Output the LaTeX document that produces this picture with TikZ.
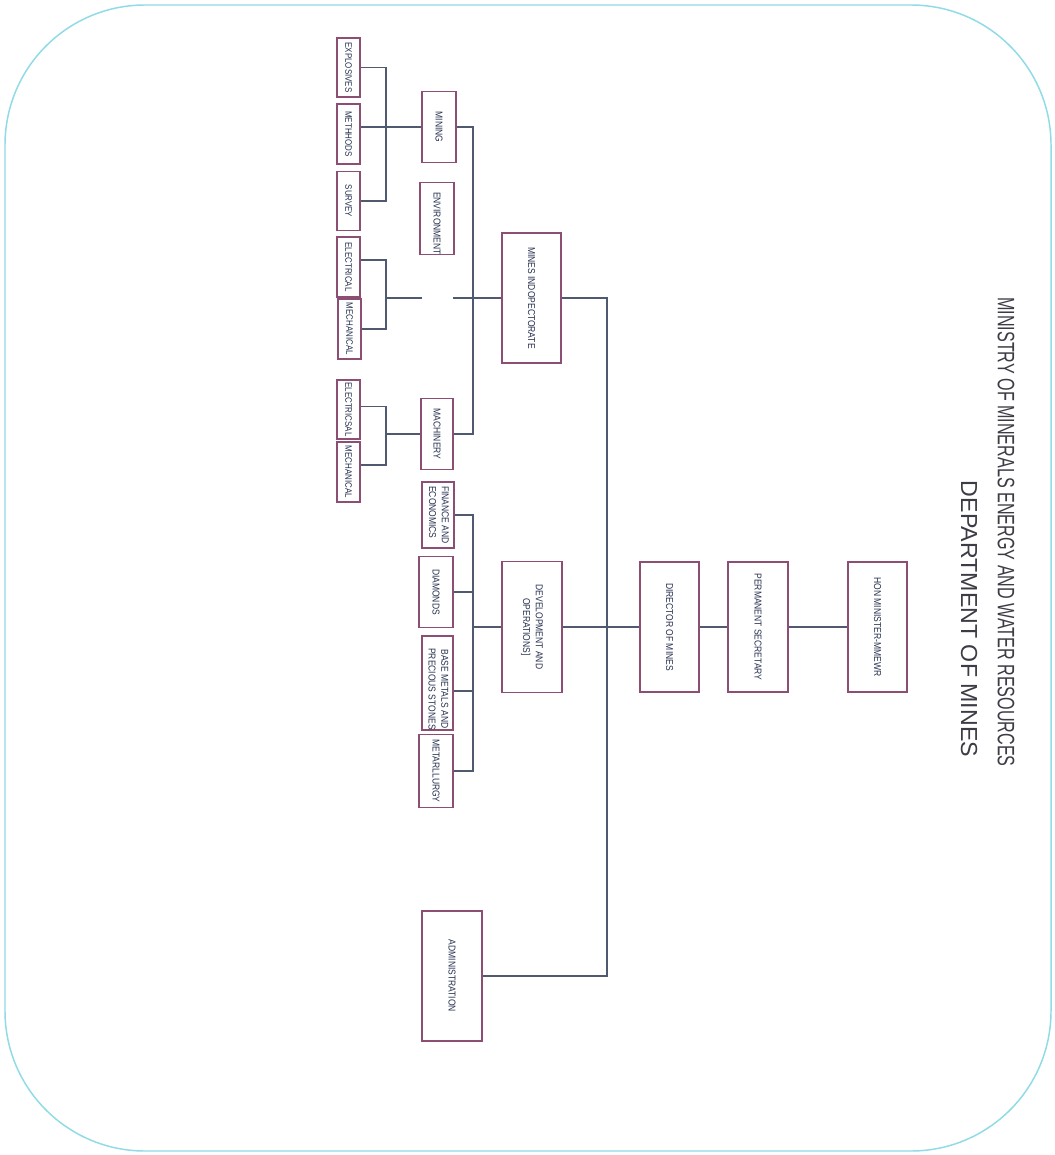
\documentclass[tikz,border=0pt]{standalone}
\usepackage{fontspec}
\setmainfont{Liberation Sans}
\newfontfamily\boxfont[FakeStretch=0.85]{Liberation Sans}
\newfontfamily\titlenarrow[FakeStretch=0.68]{Liberation Sans}
\newfontfamily\titlewide{Liberation Sans}
\usepackage{graphicx}
\definecolor{bordc}{HTML}{8FDBE6}
\definecolor{boxc}{HTML}{8C4F73}
\definecolor{txtc}{HTML}{26304F}
\definecolor{linec}{HTML}{4F5A70}
\definecolor{titlec}{HTML}{3C3C46}
\newcommand\rtxt[1]{\rotatebox{-90}{#1}}
\begin{document}
\begin{tikzpicture}[x=0.75pt,y=-0.75pt,
  box/.style={draw=boxc, line width=0.8pt, inner sep=0pt, fill=white,
    font=\boxfont\fontsize{7.5}{9.5}\selectfont, text=txtc},
  smallbox/.style={box, font=\boxfont\fontsize{7}{9}\selectfont},
  sz/.style 2 args={minimum width=#1*0.75pt, minimum height=#2*0.75pt},
  link/.style={draw=linec, line width=0.8pt}]
\fill[white] (0,0) rectangle (1055,1155);
\draw[bordc, line width=1.1pt, rounded corners=105pt] (5,5) rectangle (1051,1151);

% title
\node[rotate=-90, text=titlec, font=\titlenarrow\fontsize{17.8}{20}\selectfont, inner sep=0pt] (title1) at (1006,532) {MINISTRY OF MINERALS ENERGY AND WATER RESOURCES};
\node[rotate=-90, text=titlec, font=\titlewide\fontsize{17.4}{20}\selectfont, inner sep=0pt] (title2) at (969,619) {DEPARTMENT OF MINES};

% top chain
\node[box,sz={59}{130}] (minister) at (877.5,627) {\rtxt{HON MINISTER-MMEWR}};
\node[box,sz={60}{130}] (permsec) at (758,627) {\rtxt{PERMANENT SECRETARY}};
\node[box,sz={59}{130}] (director) at (669.5,627) {\rtxt{DIRECTOR OF MINES}};
\node[box,sz={60}{131}] (devops) at (532,627) {\rtxt{\begin{tabular}{@{}c@{}}DEVELOPMENT AND\\OPERATIONS]\end{tabular}}};
\node[box,sz={60}{130}] (admin) at (452,976) {\rtxt{ADMINISTRATION}};
\node[box,sz={59}{130}] (minesinsp) at (531.5,298) {\rtxt{MINES INDOPECTORATE}};

% middle column
\node[box,sz={34}{71}] (mining) at (439,127) {\rtxt{MINING}};
\node[box,sz={34}{71}] (environment) at (437,218.5) {\rtxt{\hspace*{7.5pt}ENVIRONMENT}};
\node[box,sz={32}{71}] (machinery) at (437,434) {\rtxt{MACHINERY}};
\node[box,sz={32}{66}] (finance) at (438,515) {\rtxt{\begin{tabular}{@{}l@{}}FINANCE AND\\ECONOMICS\end{tabular}}};
\node[box,sz={34}{71}] (diamonds) at (436,592) {\rtxt{DIAMONDS}};
\node[box,sz={31}{94}] (basemetals) at (437.5,683) {\rtxt{\hspace*{9pt}\begin{tabular}{@{}c@{}}BASE METALS AND\\PRECIOUS STONES\end{tabular}}};
\node[box,sz={34}{73}] (metallurgy) at (436,771) {\rtxt{METARLLURGY}};

% left column
\node[smallbox,sz={23}{59}] (explosives) at (348.5,67.5) {\rtxt{EXPLOSIVES}};
\node[smallbox,sz={23}{60}] (methhods) at (348.5,134) {\rtxt{METHHODS}};
\node[smallbox,sz={23}{59}] (survey) at (348.5,201) {\rtxt{SURVEY}};
\node[smallbox,sz={23}{60}] (elec1) at (348.5,267) {\rtxt{ELECTRICAL}};
\node[smallbox,sz={23}{60}] (mech1) at (349.5,329) {\rtxt{MECHANICAL}};
\node[smallbox,sz={23}{59}] (elec2) at (348.5,409.5) {\rtxt{ELECTRICSAL}};
\node[smallbox,sz={23}{60}] (mech2) at (348.5,472) {\rtxt{MECHANICAL}};

% helper coordinates
\coordinate (busA) at (386,0);
\coordinate (busB) at (473,0);
\coordinate (trunk) at (607,0);
\coordinate (gapL) at (422,298);
\coordinate (gapR) at (453,298);
\coordinate (e1) at ([yshift=5.25pt]elec1.east);
\coordinate (e2) at ([yshift=2.6pt]elec2.east);
\coordinate (m2) at ([yshift=5.25pt]mech2.east);
\coordinate (bm) at ([yshift=-6pt]basemetals.east);

% connectors
\draw[link] (mining.west) -- (mining.west -| methhods.east);
\draw[link] (explosives.east) -| (busA |- survey.east) -- (survey.east);
\draw[link] (e1) -| (busA |- mech1.east) -- (mech1.east);
\draw[link] (gapL) -- (gapL -| busA);
\draw[link] (e2) -| (busA |- m2) -- (m2);
\draw[link] (machinery.west) -- (machinery.west -| busA);
\draw[link] (mining.east) -| (busB |- machinery.east) -- (machinery.east);
\draw[link] (minesinsp.west) -- (gapR);
\draw[link] (minesinsp.east) -| (trunk |- admin.east) -- (admin.east);
\draw[link] (devops.east) -- (director.west);
\draw[link] (director.east) -- (permsec.west);
\draw[link] (permsec.east) -- (minister.west);
\draw[link] (finance.east) -| (busB |- metallurgy.east) -- (metallurgy.east);
\draw[link] (diamonds.east) -- (diamonds.east -| busB);
\draw[link] (bm) -- (bm -| busB);
\draw[link] (devops.west) -- (devops.west -| busB);
\end{tikzpicture}
\end{document}
